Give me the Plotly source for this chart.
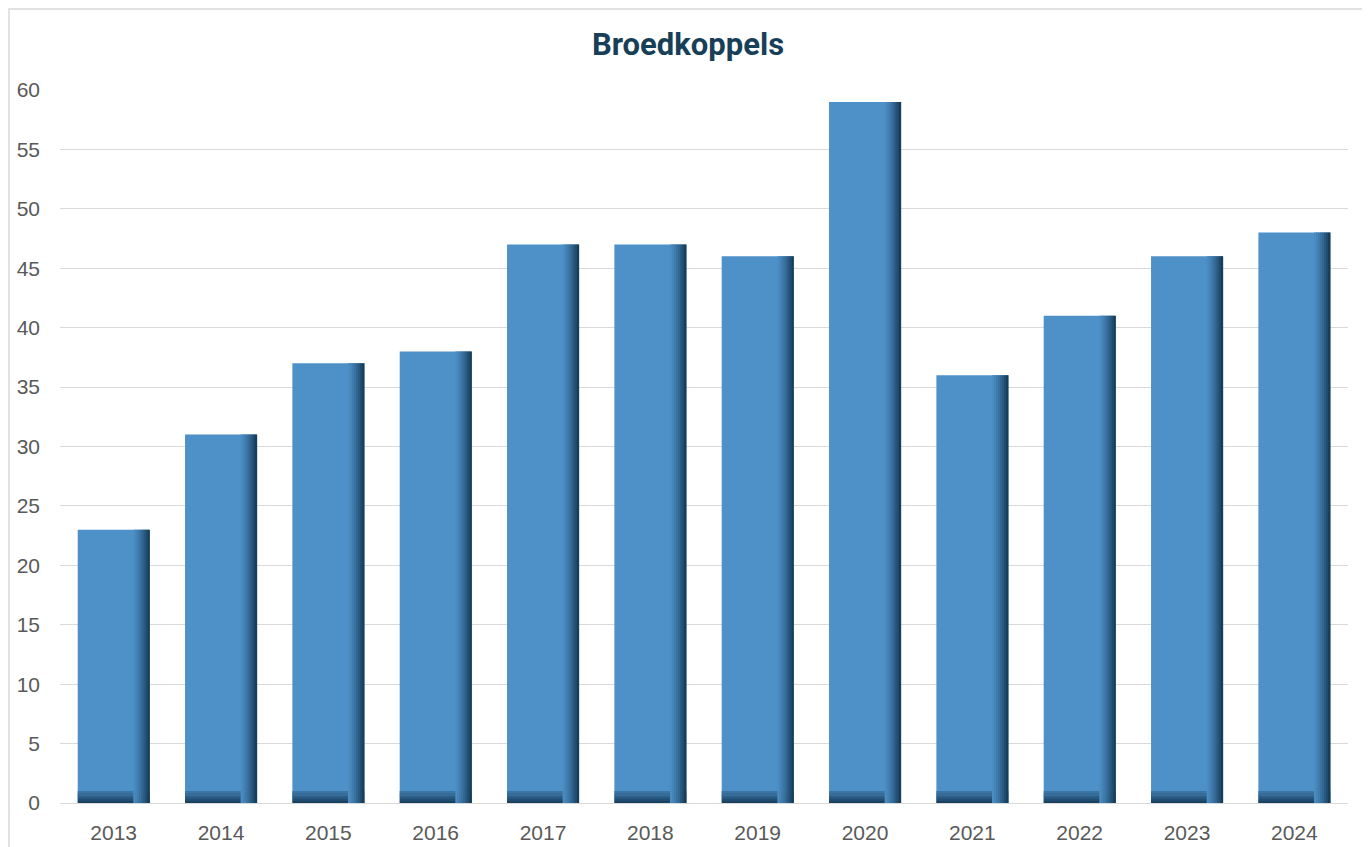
import plotly.graph_objects as go

years = ["2013", "2014", "2015", "2016", "2017", "2018", "2019", "2020", "2021", "2022", "2023", "2024"]
pairs = [23, 31, 37, 38, 47, 47, 46, 59, 36, 41, 46, 48]
y_ticks = [0, 5, 10, 15, 20, 25, 30, 35, 40, 45, 50, 55, 60]
title_text = "Broedkoppels"

Y_MAX = 60
BAR_W = 0.67
MAIN = (78, 144, 200)
DARK = (22, 62, 92)


def mix(a, b, t):
    return "rgb(%d,%d,%d)" % tuple(round(a[i] + (b[i] - a[i]) * t) for i in range(3))


fig = go.Figure()
# main bars
fig.add_trace(go.Bar(x=years, y=pairs, width=BAR_W, offset=-BAR_W / 2,
                     marker=dict(color=mix(MAIN, DARK, 0), line=dict(width=0)),
                     hoverinfo="skip", showlegend=False))

# bottom shading (gradient towards dark at base)
n_b = 6
band_h = Y_MAX * 0.0168
for i in range(n_b):
    t = (1 - i / n_b) ** 1.2
    fig.add_trace(go.Bar(x=years, y=[band_h / n_b] * len(years), base=[i * band_h / n_b] * len(years),
                         width=BAR_W, offset=-BAR_W / 2,
                         marker=dict(color=mix(MAIN, DARK, 0.25 + 0.7 * t), line=dict(width=0)),
                         hoverinfo="skip", showlegend=False))

# right-side shading strips
n_s = 8
strip_total = 0.15
sw = strip_total / n_s
for i in range(n_s):
    t = ((i + 1) / n_s) ** 1.4
    fig.add_trace(go.Bar(x=years, y=pairs, width=sw + 0.004,
                         offset=BAR_W / 2 - strip_total + i * sw - 0.002,
                         marker=dict(color=mix(MAIN, DARK, t), line=dict(width=0)),
                         hoverinfo="skip", showlegend=False))

L, R, T, B = 52, 22, 82, 44
W, H = 1362, 839
PW, PH = W - L - R, H - T - B

fig.update_layout(
    width=W, height=H,
    barmode="overlay",
    paper_bgcolor="white",
    plot_bgcolor="white",
    margin=dict(l=L, r=R, t=T, b=B, autoexpand=False),
    title=dict(text="<b>" + title_text + "</b>", x=(688 - 8) / W, xanchor="center",
               y=1 - (44 - 8) / H, yanchor="middle",
               font=dict(family="Roboto", size=31, color="#173f58")),
    font=dict(family="Liberation Sans, Arial", size=21, color="#595959"),
    xaxis=dict(type="category", showgrid=False, showline=True, linecolor="#d9d9d9", linewidth=1,
               ticks="", ticklabelstandoff=11, tickfont=dict(size=21, color="#595959")),
    yaxis=dict(range=[0, Y_MAX], tickvals=y_ticks, showgrid=True, gridcolor="#d9d9d9", gridwidth=1,
               zeroline=False, showline=False, ticks="", ticklabelstandoff=19,
               tickfont=dict(size=21, color="#595959")),
    shapes=[dict(type="rect", xref="paper", yref="paper",
                 x0=(1 - L) / PW, x1=(1368 - 8 - L) / PW,
                 y0=-(B + 10) / PH, y1=1 + (T - 1) / PH,
                 line=dict(color="#d9d9d9", width=1.5), layer="below")],
    hovermode=False,
)

fig.write_html("out.html")
